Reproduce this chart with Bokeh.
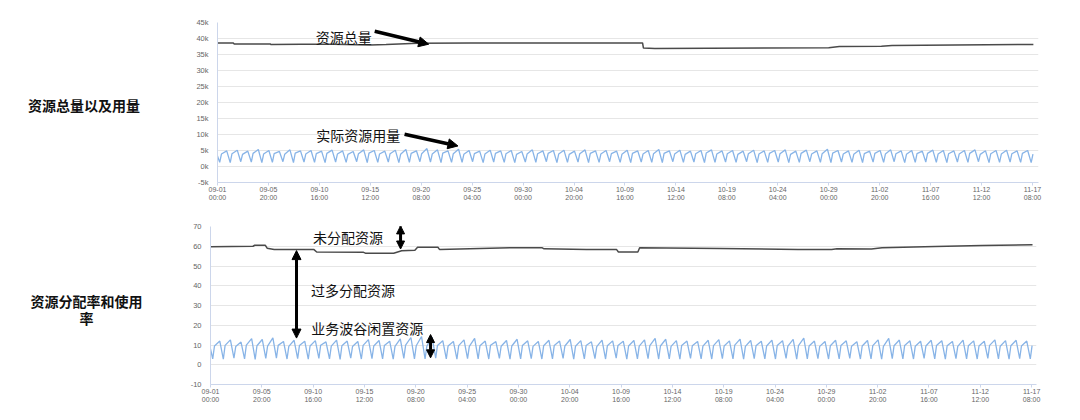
import pandas as pd
from bokeh.plotting import figure
from bokeh.models import Range1d, FixedTicker, Arrow, NormalHead
from bokeh.layouts import column, row
from bokeh.embed import file_html
from bokeh.resources import INLINE
from bokeh.core.properties import value

# ---------------- data ----------------
YEAR = "2018-"
x_start = "2018-09-01 00:00"
x_end_top = "2018-11-17 21:40"
x_end_bot = "2018-11-17 19:00"

x_tick_times = ["09-01 00:00", "09-05 20:00", "09-10 16:00", "09-15 12:00", "09-20 08:00",
                "09-25 04:00", "09-30 00:00", "10-04 20:00", "10-09 16:00", "10-14 12:00",
                "10-19 08:00", "10-24 04:00", "10-29 00:00", "11-02 20:00", "11-07 16:00",
                "11-12 12:00", "11-17 08:00"]
x_tick_labels = [t.replace(" ", "\n") for t in x_tick_times]

top_y_ticks = [-5000, 0, 5000, 10000, 15000, 20000, 25000, 30000, 35000, 40000, 45000]
top_y_labels = ["-5k", "0k", "5k", "10k", "15k", "20k", "25k", "30k", "35k", "40k", "45k"]
bot_y_ticks = [-10, 0, 10, 20, 30, 40, 50, 60, 70]
bot_y_labels = ["-10", "0", "10", "20", "30", "40", "50", "60", "70"]

# total resources (top, black), in k
total_times = ["09-01 00:00", "09-02 12:00", "09-02 14:00", "09-06 00:00", "09-06 02:00",
               "09-09 00:00", "09-12 00:00", "09-15 12:00", "09-17 00:00", "09-20 00:00",
               "09-25 00:00", "10-11 08:00", "10-11 10:00", "10-12 12:00", "10-29 00:00",
               "10-30 00:00", "11-03 00:00", "11-04 00:00", "11-17 10:00"]
total_k = [38.6, 38.6, 38.3, 38.3, 38.1, 38.2, 38.2, 38.0, 38.1, 38.5,
           38.6, 38.6, 37.0, 36.9, 37.1, 37.5, 37.6, 37.85, 38.15]

# allocation rate (bottom, black), in %
alloc_times = ["09-01 00:00", "09-05 00:00", "09-05 04:00", "09-06 04:00", "09-06 08:00",
               "09-07 00:00", "09-10 18:00", "09-11 00:00", "09-15 10:00", "09-15 14:00",
               "09-18 06:00", "09-19 00:00", "09-20 06:00", "09-20 12:00", "09-22 10:00",
               "09-22 14:00", "09-29 12:00", "10-02 06:00", "10-02 10:00", "10-06 10:00",
               "10-09 06:00", "10-09 10:00", "10-11 06:00", "10-11 10:00", "10-19 00:00",
               "10-26 08:00", "10-29 12:00", "10-30 00:00", "11-02 06:00", "11-03 06:00",
               "11-08 06:00", "11-12 16:00", "11-17 10:00"]
alloc_pct = [59.8, 60.0, 60.5, 60.5, 59.0, 58.3, 58.3, 57.1, 56.9, 56.5,
             56.5, 57.7, 58.0, 59.5, 59.5, 58.3, 59.3, 59.2, 58.7, 58.3,
             58.3, 57.1, 57.1, 59.2, 58.9, 58.3, 58.4, 58.7, 58.6, 59.3,
             59.9, 60.4, 60.8]

# daily usage (top, blue), in k: trough / morning / evening peak
usage_start_k = 3.3
usage_low_k = [1.3, 1.2, 1.5, 1.4, 1.2, 1.3, 1.5, 1.2, 1.4, 1.3,
               1.2, 1.4, 1.3, 1.5, 1.2, 1.3, 1.4, 1.2, 1.3, 1.5,
               1.4, 1.2, 1.3, 1.3, 1.5, 1.2, 1.4, 1.3, 1.2, 1.4,
               1.3, 1.5, 1.2, 1.3, 1.4, 1.2, 1.3, 1.5, 1.3, 1.2,
               1.4, 1.3, 1.2, 1.5, 1.3, 1.4, 1.2, 1.3, 1.4, 1.3,
               1.5, 1.2, 1.3, 1.4, 1.2, 1.3, 1.5, 1.3, 1.2, 1.4,
               1.3, 1.2, 1.4, 1.3, 1.5, 1.2, 1.3, 1.4, 1.3, 1.2,
               1.4, 1.3, 1.5, 1.2, 1.3, 1.4, 1.3, 1.2]
usage_mid_k = [3.9, 4.0, 3.8, 4.1, 3.9, 4.0, 3.8, 4.2, 3.9, 4.0,
               4.1, 3.9, 3.8, 4.0, 4.2, 3.9, 4.0, 3.8, 4.1, 4.0,
               3.9, 4.2, 4.0, 3.8, 4.0, 3.9, 4.1, 4.0, 3.8, 3.9,
               4.0, 4.1, 3.9, 3.8, 4.0, 4.1, 3.9, 4.0, 3.8, 4.1,
               3.9, 4.0, 4.1, 3.9, 3.8, 4.0, 4.2, 3.9, 4.0, 3.8,
               4.0, 3.9, 4.1, 4.0, 3.8, 4.1, 3.9, 4.0, 4.2, 3.9,
               3.8, 4.0, 4.1, 3.9, 4.0, 3.8, 4.0, 4.1, 3.9, 4.0,
               3.9, 4.1, 3.8, 4.0, 3.9, 4.0, 4.1, 3.9]
usage_high_k = [4.9, 5.1, 4.8, 5.3, 5.0, 4.7, 5.2, 4.9, 5.0, 4.8,
                5.1, 4.9, 4.7, 5.2, 5.0, 4.8, 5.1, 5.3, 4.9, 5.6,
                5.2, 4.9, 5.4, 5.0, 4.8, 5.1, 4.9, 5.0, 4.7, 5.2,
                4.9, 5.0, 5.1, 4.8, 5.2, 4.9, 5.0, 4.8, 5.1, 4.9,
                5.0, 5.3, 4.9, 5.1, 4.8, 5.0, 5.2, 4.9, 5.0, 4.8,
                5.1, 4.9, 5.0, 5.2, 4.8, 5.1, 4.9, 5.4, 5.0, 4.9,
                5.1, 4.8, 5.0, 5.2, 4.9, 5.0, 4.8, 5.1, 5.0, 4.9,
                5.0, 5.2, 4.9, 5.0, 5.1, 4.9, 5.0, 4.8]

# daily usage rate (bottom, blue), in %
rate_start = 8.0
rate_low = [3.0, 2.8, 3.3, 3.0, 2.7, 3.2, 3.4, 2.9, 3.1, 2.8,
            3.2, 3.0, 2.7, 3.3, 2.9, 3.1, 3.0, 2.8, 3.2, 3.0,
            2.9, 3.3, 3.0, 2.8, 3.1, 3.0, 2.9, 3.2, 2.8, 3.0,
            3.1, 2.9, 3.0, 3.2, 2.8, 3.0, 3.1, 2.9, 3.3, 2.8,
            3.0, 3.1, 2.9, 3.0, 2.8, 3.2, 3.0, 2.9, 3.1, 3.0,
            2.8, 3.1, 3.0, 2.9, 3.2, 2.8, 3.0, 3.1, 2.9, 3.0,
            3.2, 2.9, 3.0, 2.8, 3.1, 3.0, 2.9, 3.2, 3.0, 2.8,
            3.1, 3.0, 2.9, 3.2, 3.0, 2.8, 3.1, 3.0]
rate_mid = [9.5, 9.8, 9.2, 9.9, 9.6, 9.4, 9.8, 9.3, 9.7, 9.5,
            9.9, 9.4, 9.6, 9.2, 9.8, 9.5, 9.7, 9.3, 9.9, 9.6,
            9.4, 9.8, 9.5, 9.7, 9.3, 9.6, 9.9, 9.4, 9.5, 9.7,
            9.3, 9.6, 9.8, 9.5, 9.4, 9.7, 9.2, 9.6, 9.8, 9.5,
            9.4, 9.7, 9.5, 9.3, 9.8, 9.6, 9.4, 9.7, 9.5, 9.9,
            9.3, 9.6, 9.5, 9.8, 9.4, 9.7, 9.5, 9.3, 9.6, 9.8,
            9.4, 9.5, 9.7, 9.3, 9.6, 9.8, 9.4, 9.5, 9.7, 9.6,
            9.3, 9.6, 9.5, 9.8, 9.4, 9.6, 9.5, 9.7]
rate_high = [12.0, 12.6, 11.5, 13.2, 12.8, 13.6, 11.8, 12.4, 11.9, 12.2,
             11.6, 12.5, 12.0, 11.8, 12.7, 12.3, 11.9, 13.1, 13.8, 14.3,
             14.0, 12.2, 11.8, 12.6, 13.4, 12.0, 11.7, 12.3, 12.9, 12.1,
             11.8, 12.4, 12.0, 12.8, 12.2, 11.6, 12.5, 12.1, 11.9, 12.3,
             12.6, 13.4, 12.9, 12.2, 12.0, 11.8, 12.4, 12.7, 12.1, 13.0,
             12.3, 11.9, 12.5, 12.2, 12.8, 13.5, 12.0, 11.8, 12.4, 12.1,
             11.7, 12.3, 12.6, 13.3, 12.5, 12.1, 11.9, 12.4, 12.2, 11.8,
             12.5, 12.1, 11.9, 12.6, 12.2, 12.4, 12.0, 11.8]

data_end = "2018-11-17 10:00"
daily_hours = [5, 9, 21]   # hour of day for trough / morning / evening peak

# ---------------- helpers ----------------
def ms(s):
    if not s.startswith("2018"):
        s = YEAR + s
    return pd.Timestamp(s).value // 10**6

T0 = ms(x_start)
TEND = ms(data_end)
H = 3600 * 1000

def daily_series(start_val, lows, mids, highs):
    xs, ys = [T0], [start_val]
    for d in range(len(lows)):
        for h, v in zip(daily_hours, (lows[d], mids[d], highs[d])):
            t = T0 + (d * 24 + h) * H
            if t <= TEND:
                xs.append(t)
                ys.append(v)
    return xs, ys

BLUE = "#88B4E7"
BLACK = "#4a4a4a"
GRID = "#e6e6e6"
AXIS = "#ccd6eb"
LBL = "#666666"
CJK = "Noto Sans CJK SC"

x_ticks_ms = [ms(t) for t in x_tick_times]

def main_fig(width, height, min_left, top, bottom, x_end, y0, y1, yticks, ylabels):
    p = figure(width=width, height=height, x_axis_type="datetime", title=None,
               x_range=Range1d(T0, ms(x_end)), y_range=Range1d(y0, y1),
               output_backend="svg", toolbar_location=None,
               min_border_left=min_left, min_border_right=30,
               min_border_top=top, min_border_bottom=bottom)
    p.outline_line_color = None
    p.background_fill_color = "white"
    p.border_fill_color = "white"
    p.xgrid.grid_line_color = None
    p.ygrid.grid_line_color = GRID
    p.ygrid.grid_line_width = 1
    p.xaxis.ticker = FixedTicker(ticks=x_ticks_ms)
    p.xaxis.major_label_overrides = {t: l for t, l in zip(x_ticks_ms, x_tick_labels)}
    p.xaxis.minor_tick_line_color = None
    p.xaxis.major_tick_in = 0
    p.xaxis.major_tick_out = 3
    p.xaxis.major_tick_line_color = AXIS
    p.xaxis.axis_line_color = AXIS
    p.xaxis.major_label_standoff = 0
    p.xaxis.major_label_text_font_size = "7px"
    p.yaxis.ticker = FixedTicker(ticks=yticks)
    p.yaxis.major_label_overrides = {t: l for t, l in zip(yticks, ylabels)}
    p.yaxis.minor_tick_line_color = None
    p.yaxis.major_tick_line_color = None
    p.yaxis.major_tick_in = 0
    p.yaxis.major_tick_out = 0
    p.yaxis.axis_line_color = AXIS
    p.yaxis.major_label_standoff = 9
    p.yaxis.major_label_text_font_size = "7.5px"
    for ax in (p.xaxis, p.yaxis):
        ax.major_label_text_font = "Liberation Sans"
        ax.major_label_text_color = LBL
    return p

def add_text(p, x, y, txt, size="14px", style="normal", baseline="middle", line_height=1.2):
    p.text(x=[x], y=[y], text=[txt], text_font=value(CJK), text_font_size=size,
           text_font_style=style, text_color="#111111", text_align="center",
           text_baseline=baseline, text_line_height=line_height)

def add_arrow(p, x0, y0, x1, y1, double=False, size=9, width=3):
    p.add_layout(Arrow(x_start=x0, y_start=y0, x_end=x1, y_end=y1,
                       line_width=width, line_color="black",
                       end=NormalHead(size=size, fill_color="black", line_color="black", line_width=1),
                       start=NormalHead(size=size, fill_color="black", line_color="black", line_width=1) if double else None))

def hx(h):
    return T0 + h * H

# ---------------- top chart ----------------
p1 = main_fig(898, 214, 47, 22, 32, x_end_top, -5000, 45000, top_y_ticks, top_y_labels)
p1.line([ms(t) for t in total_times], [v * 1000 for v in total_k], line_color=BLACK, line_width=1.5)
ux, uy = daily_series(usage_start_k, usage_low_k, usage_mid_k, usage_high_k)
p1.line(ux, [v * 1000 for v in uy], line_color=BLUE, line_width=1.3)
add_text(p1, hx(287.7), 40500, "资源总量")
add_arrow(p1, hx(358), 42260, hx(481), 38220, size=10, width=3.5)
add_text(p1, hx(320.7), 9900, "实际资源用量")
add_arrow(p1, hx(426), 10060, hx(547.6), 6420, size=10, width=3.5)

# ---------------- bottom chart ----------------
p2 = main_fig(896, 202, 40, 12, 32, x_end_bot, -10, 70, bot_y_ticks, bot_y_labels)
p2.line([ms(t) for t in alloc_times], alloc_pct, line_color=BLACK, line_width=1.5)
rx, ry = daily_series(rate_start, rate_low, rate_mid, rate_high)
p2.line(rx, ry, line_color=BLUE, line_width=1.3)
add_text(p2, hx(310.9), 64.6, "未分配资源")
add_arrow(p2, hx(429.6), 70.3, hx(429.6), 58.6, double=True, size=8, width=3)
add_arrow(p2, hx(194.4), 57.8, hx(194.4), 13.5, double=True, size=9, width=3)
add_text(p2, hx(322.2), 38.0, "过多分配资源")
add_text(p2, hx(354.2), 18.5, "业务波谷闲置资源")
add_arrow(p2, hx(497.4), 15.3, hx(497.4), 3.5, double=True, size=8, width=3)

# ---------------- side labels ----------------
def label_fig(height, x, y, txt, line_height):
    q = figure(width=170, height=height, x_range=Range1d(0, 170), y_range=Range1d(height, 0),
               output_backend="svg", toolbar_location=None, title=None,
               x_axis_location=None, y_axis_location=None,
               min_border_left=0, min_border_right=0, min_border_top=0, min_border_bottom=0)
    q.outline_line_color = None
    q.xgrid.grid_line_color = None
    q.ygrid.grid_line_color = None
    add_text(q, x, y, txt, size="14px", style="bold", baseline="middle", line_height=line_height)
    return q

l1 = label_fig(214, 83.5, 110, "资源总量以及用量", 1.2)
l2 = label_fig(202, 86, 106, "资源分配率和使用\n率", 0.82)

layout = column(row(l1, p1), row(l2, p2))
open("out.html", "w").write(file_html(layout, INLINE))
